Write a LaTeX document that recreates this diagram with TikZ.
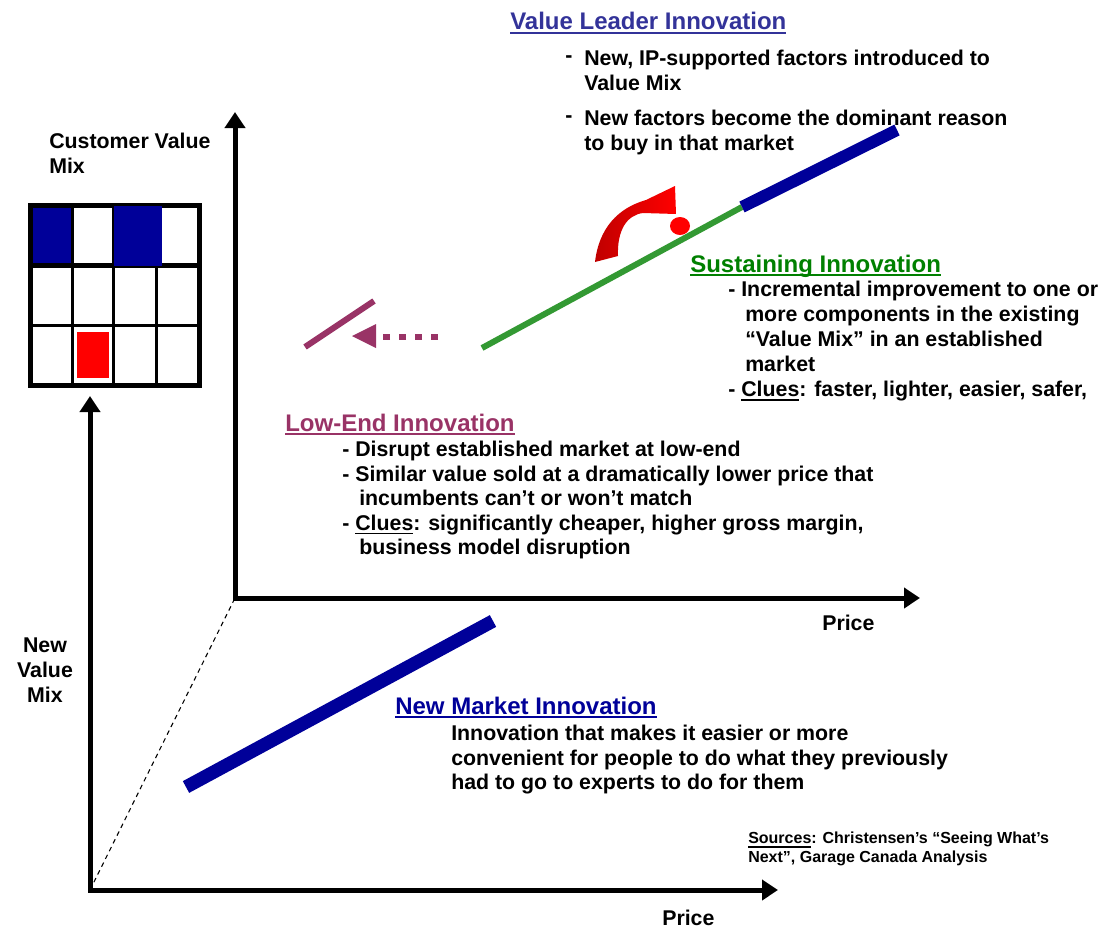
\documentclass[tikz,border=0pt]{standalone}
\usepackage{fontspec}
\setmainfont{Liberation Sans}
\usetikzlibrary{arrows.meta}
\definecolor{vlblue}{HTML}{333399}
\definecolor{nmblue}{HTML}{000099}
\definecolor{sgreen}{HTML}{008000}
\definecolor{lgreen}{HTML}{339933}
\definecolor{maroon}{HTML}{993366}
\definecolor{dkred}{HTML}{C00000}
\newcommand\myul[1]{\setbox0\hbox{#1}\rlap{\rule[-3pt]{\wd0}{1.3pt}}\box0}
\begin{document}
\begin{tikzpicture}[x=0.75pt,y=-0.75pt,
  body/.style={font=\bfseries\fontsize{16}{18.75}\selectfont, inner sep=0pt, align=left},
  lowbody/.style={font=\bfseries\fontsize{16}{18.4}\selectfont, inner sep=0pt, align=left},
  ttl/.style={font=\bfseries\fontsize{18}{21}\selectfont, inner sep=0pt},
  small/.style={font=\bfseries\fontsize{12}{14.25}\selectfont, inner sep=0pt, align=left},
  axis/.style={line width=3.75pt, line join=miter,
    {Triangle[width=15pt,length=12pt]}-{Triangle[width=15pt,length=12pt]}},
  gridthin/.style={line width=2.25pt},
  gridthick/.style={line width=3.75pt}]
\useasboundingbox (0,0) rectangle (1104,928);

% ---------- axes ----------
\coordinate (uo) at (235,598);
\coordinate (uy) at (235,112);
\coordinate (ux) at (920,598);
\coordinate (lo) at (90,890);
\coordinate (ly) at (90,396);
\coordinate (lx) at (778,890);
\draw[axis] (uy) -- (uo) -- (ux);
\draw[axis] (ly) -- (lo) -- (lx);
\draw[line width=0.8pt, dash pattern=on 3.5pt off 3pt] (lo) -- (uo);

% ---------- value mix grid ----------
\fill[nmblue] (32,207) rectangle (71,266);
\fill[red] (77,332) rectangle (109,378);
\foreach \x in {72.5,113.5,156.5} \draw[gridthin] (\x,205.5) -- (\x,385.5);
\draw[gridthin] (30.5,325.5) -- (199.5,325.5);
\draw[gridthick] (30.5,265.5) -- (199.5,265.5);
\draw[gridthick] (30.5,205.5) rectangle (199.5,385.5);
\fill[nmblue] (114,206) rectangle (162,266);

% ---------- lines ----------
\coordinate (g1) at (482,348);
\coordinate (g2) at (742,207);
\coordinate (b2) at (897,130);
\draw[lgreen, line width=4.5pt] (g1) -- (g2);
\draw[nmblue, line width=9pt] (g2) -- (b2);
\coordinate (n1) at (186,787);
\coordinate (n2) at (493,621);
\draw[nmblue, line width=10pt] (n1) -- (n2);
\coordinate (m1) at (305,347);
\coordinate (m2) at (374,301);
\draw[maroon, line width=4.5pt] (m1) -- (m2);
\coordinate (d1) at (438,337);
\coordinate (d2) at (383,337);
\draw[maroon, line width=5.2pt, dash pattern=on 5.2pt off 6.8pt] (d1) -- (d2);
\coordinate (t1) at (352,336);
\fill[maroon] (t1) -- (376,324) -- (376,348) -- cycle;

% ---------- red curved arrow and dot ----------
\shade[left color=dkred, right color=red]
  (595,262) .. controls (599,228) and (618,208) .. (646,200)
  -- (675,186) -- (676,214) -- (643,213)
  .. controls (627,215) and (617,230) .. (618,256) -- cycle;
\fill[red] (680,226) ellipse [x radius=10, y radius=9];

% ---------- texts ----------
\node[ttl, text=vlblue, anchor=base west] (vlt) at (510,30) {\myul{Value Leader Innovation}};
\node[body, anchor=west] (vld1) at (565,59) {-};
\node[body, anchor=north west] (vl1) at (584,50) {New, IP-supported factors introduced to\\Value Mix};
\node[body, anchor=west] (vld2) at (565,119) {-};
\node[body, anchor=north west] (vl2) at (584,110) {New factors become the dominant reason\\to buy in that market};

\node[ttl, text=sgreen, anchor=base west] (st) at (690,272) {\myul{Sustaining Innovation}};
\node[body, anchor=north west] (sb) at (728,281) {- Incremental improvement to one or\\
\hspace*{12.75pt}more components in the existing\\
\hspace*{12.75pt}“Value Mix” in an established\\
\hspace*{12.75pt}market\\
- \myul{Clues}: faster, lighter, easier, safer,};

\node[ttl, text=maroon, anchor=base west] (lt) at (285,431) {\myul{Low-End Innovation}};
\node[lowbody, anchor=north west] (lb) at (342,441) {- Disrupt established market at low-end\\
- Similar value sold at a dramatically lower price that\\
\hspace*{12.75pt}incumbents can’t or won’t match\\
- \myul{Clues}: significantly cheaper, higher gross margin,\\
\hspace*{12.75pt}business model disruption};

\node[ttl, text=nmblue, anchor=base west] (nt) at (395,714) {\myul{New Market Innovation}};
\node[lowbody, anchor=north west] (nb) at (451,725) {Innovation that makes it easier or more\\
convenient for people to do what they previously\\
had to go to experts to do for them};

\node[body, anchor=north west] (cvm) at (49,133) {Customer Value\\Mix};
\node[body, align=center, anchor=north] (nvm) at (45,638) {New\\Value\\Mix};
\node[body, anchor=base west] (p1) at (822,630) {Price};
\node[body, anchor=base west] (p2) at (662,925) {Price};
\node[small, anchor=north west] (src) at (748,832) {\myul{Sources}: Christensen’s “Seeing What’s\\Next”, Garage Canada Analysis};
\end{tikzpicture}
\end{document}
